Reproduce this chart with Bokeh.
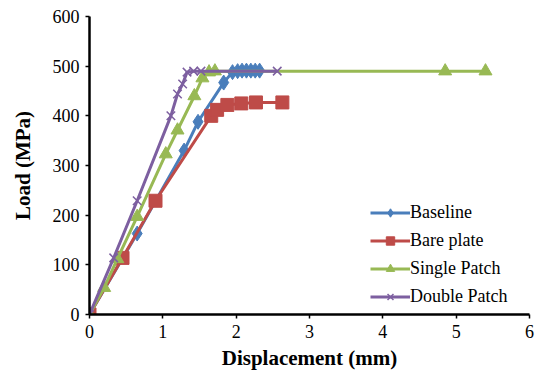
from bokeh.plotting import figure
from bokeh.models import Range1d, FixedTicker, Legend
from bokeh.embed import file_html
from bokeh.resources import INLINE

# Data
baseline_x = [0, 0.65, 1.29, 1.48, 1.83, 1.95, 2.02, 2.08, 2.14, 2.20, 2.26, 2.32]
baseline_y = [0, 163, 330, 388, 467, 488, 490, 491, 491, 491, 491, 491]

bare_x = [0, 0.45, 0.90, 1.66, 1.74, 1.88, 2.07, 2.27, 2.63]
bare_y = [0, 114, 229, 400, 412, 422, 425, 427, 427]

single_x = [0, 0.20, 0.38, 0.65, 1.04, 1.20, 1.43, 1.54, 1.63, 1.71, 4.85, 5.40]
single_y = [0, 54, 112, 197, 323, 371, 440, 476, 488, 490, 490, 490]

double_x = [0, 0.33, 0.65, 1.11, 1.20, 1.27, 1.33, 1.42, 1.52, 2.56]
double_y = [0, 114, 229, 400, 444, 464, 488, 490, 490, 490]

x_ticks = [0, 1, 2, 3, 4, 5, 6]
y_ticks = [0, 100, 200, 300, 400, 500, 600]

FONT = "'Liberation Serif', 'Times New Roman', serif"

p = figure(width=541, height=376, output_backend="svg", toolbar_location=None,
           x_range=Range1d(0, 6), y_range=Range1d(0, 600),
           min_border_left=89, min_border_right=12, min_border_top=16, min_border_bottom=62)
p.outline_line_color = None
p.grid.grid_line_color = None
p.background_fill_color = "white"

for ax in (p.xaxis[0], p.yaxis[0]):
    ax.axis_line_color = "black"
    ax.axis_line_width = 2.5
    ax.major_tick_line_color = "black"
    ax.major_tick_line_width = 1.5
    ax.major_tick_out = 4
    ax.major_tick_in = 0
    ax.minor_tick_line_color = None
    ax.major_label_text_font = FONT
    ax.major_label_text_font_size = "18px"
    ax.major_label_text_color = "black"
    ax.axis_label_text_font = FONT
    ax.axis_label_text_font_style = "bold"
    ax.axis_label_text_font_size = "21px"
    ax.axis_label_text_color = "black"

p.xaxis.ticker = FixedTicker(ticks=x_ticks)
p.yaxis.ticker = FixedTicker(ticks=y_ticks)
p.xaxis.axis_label = "Displacement (mm)"
p.yaxis.axis_label = "Load (MPa)"
p.xaxis.major_label_standoff = 6
p.yaxis.major_label_standoff = 6
p.xaxis.axis_label_standoff = 5
p.yaxis.axis_label_standoff = 15

series = [
    ("Baseline", baseline_x, baseline_y, "#4A7EBB", "diamond", 15),
    ("Bare plate", bare_x, bare_y, "#BE4B48", "square", 13),
    ("Single Patch", single_x, single_y, "#98B954", "triangle", 13),
    ("Double Patch", double_x, double_y, "#7D5FA0", "x", 12),
]

items = []
for name, xs, ys, color, marker, size in series:
    r1 = p.line(xs, ys, line_color=color, line_width=3)
    if marker == "x":
        r2 = p.scatter(xs, ys, marker=marker, size=size, line_color=color, line_width=1.5)
    else:
        r2 = p.scatter(xs, ys, marker=marker, size=size, fill_color=color, line_color=color)
    items.append((name, [r1, r2]))

legend = Legend(items=items, location=(281, 7), border_line_color=None,
                background_fill_alpha=0, padding=0, margin=0, spacing=7,
                glyph_width=40, glyph_height=21, label_height=21, label_standoff=0,
                label_text_font=FONT, label_text_font_size="18px", label_text_color="black")
p.add_layout(legend, "center")

open("out.html", "w").write(file_html(p, INLINE))
